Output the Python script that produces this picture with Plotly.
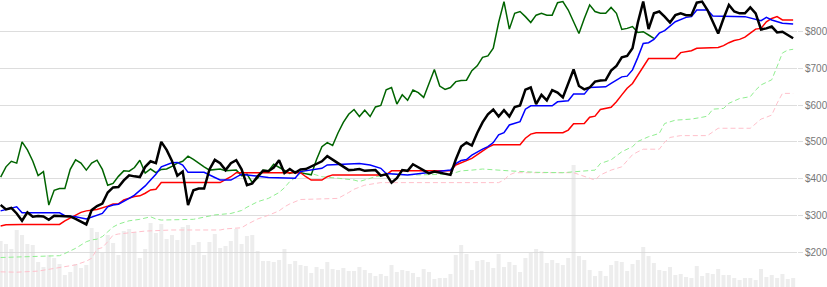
import plotly.graph_objects as go

# Closing prices (index 0..148)
close = [328, 316, 320, 305, 285, 308, 296, 298, 297, 288,
         299, 298, 298, 297, 290, 283, 275, 314, 325, 332,
         362, 376, 377, 395, 409, 406, 404, 432, 447, 442,
         500, 478, 448, 408, 419, 328, 368, 373, 373, 425,
         451, 442, 423, 442, 450, 425, 382, 387, 406, 421,
         420, 430, 450, 415, 426, 416, 425, 426, 433, 442,
         447, 461, 452, 441, 432, 423, 424, 426, 421, 421,
         423, 408, 412, 389, 401, 423, 421, 439, 431, 421,
         414, 419, 416, 412, 410, 452, 487, 498, 490, 524,
         553, 575, 588, 569, 586, 569, 595, 599, 642, 648,
         603, 628, 613, 641, 634, 621, 659, 697, 652, 643,
         648, 664, 667, 668, 694, 707, 730, 734, 755, 825,
         882, 807, 850, 855, 841, 825, 845, 850, 845, 845,
         879, 882, 859, 825, 795, 836, 873, 855, 850, 850,
         866, 850, 806, 809, 814, 798, 800, 791, 782]

# Volume (millions)
volume = [4.6, 4.3, 3.8, 5.7, 5.2, 4.3, 4.2, 2.5, 2.0, 3.2,
          2.9, 2.3, 1.2, 1.5, 2.3, 1.9, 2.2, 5.9, 5.5, 3.4,
          5.2, 4.4, 3.2, 5.6, 5.8, 5.5, 2.9, 3.8, 6.4, 5.4,
          6.3, 4.8, 5.2, 4.7, 6.0, 6.2, 4.2, 4.5, 3.2, 4.5,
          5.3, 3.9, 4.1, 4.6, 5.8, 4.3, 5.1, 5.2, 3.6, 2.6,
          2.6, 2.5, 2.7, 3.8, 2.3, 2.6, 2.2, 2.1, 1.4, 2.0,
          1.8, 2.5, 1.8, 1.7, 1.9, 1.6, 1.6, 2.0, 1.7, 1.4,
          1.1, 1.3, 1.1, 2.2, 1.5, 1.7, 1.6, 1.4, 1.0, 1.8,
          1.5, 0.8, 0.9, 0.9, 1.3, 3.2, 4.2, 3.3, 1.7, 2.6,
          2.7, 2.5, 1.9, 3.3, 2.0, 2.5, 2.2, 1.5, 2.9, 3.4,
          3.8, 3.6, 2.4, 2.7, 2.4, 2.2, 2.9, 12.2, 3.1, 2.7,
          1.7, 1.1, 1.6, 1.1, 2.2, 2.6, 2.5, 1.6, 2.3, 2.7,
          4.0, 3.1, 2.4, 1.7, 1.6, 2.0, 1.2, 1.3, 1.0, 0.9,
          2.1, 1.1, 1.4, 1.3, 1.8, 1.2, 1.2, 0.9, 0.7, 0.9,
          0.9, 0.7, 1.8, 1.0, 1.2, 0.9, 1.3, 0.8, 0.9]

# Tenkan-sen (conversion line) - breakpoints
tenkan_idx = [0, 2, 3, 4, 11, 12, 14, 16, 18, 19, 20, 21, 22, 23, 24, 25, 26, 27, 28, 29,
              30, 31, 32, 33, 34, 35, 38, 40, 41, 43, 44, 45, 46, 48, 50, 55, 56, 60, 61, 67,
              69, 71, 72, 76, 80, 83, 84, 85, 86, 87, 88, 90, 91, 92, 93, 94, 95, 97, 98, 99,
              103, 104, 106, 107, 109, 110, 113, 114, 116, 117, 118, 119, 120, 121, 122, 123, 124, 126, 128, 129,
              130, 132, 133, 139, 141, 142, 143, 144, 146, 148]
tenkan_val = [312, 319, 323, 307, 307, 299, 296, 290, 301, 305, 323, 328, 330, 337, 346, 355, 367, 380, 396, 412,
              432, 437, 443, 444, 437, 417, 417, 403, 396, 396, 405, 412, 410, 407, 403, 401, 419, 428, 437, 441,
              437, 428, 414, 410, 416, 421, 423, 441, 449, 452, 464, 480, 487, 498, 519, 525, 546, 555, 589, 598,
              598, 609, 612, 630, 630, 648, 650, 659, 677, 679, 696, 730, 768, 770, 779, 796, 803, 827, 839, 841,
              859, 859, 843, 841, 834, 830, 839, 832, 823, 821]

# Kijun-sen (base line) - breakpoints
kijun_idx = [0, 1, 4, 11, 12, 14, 15, 16, 18, 20, 21, 22, 23, 25, 26, 27, 28, 29, 30, 41,
             42, 43, 44, 56, 57, 58, 60, 61, 62, 72, 73, 84, 85, 86, 87, 88, 89, 90, 91, 92,
             97, 98, 99, 100, 105, 106, 107, 109, 110, 111, 112, 114, 115, 116, 117, 118, 119, 120, 121, 126,
             127, 129, 130, 134, 135, 136, 137, 138, 139, 140, 141, 142, 143, 144, 145, 146, 148]
kijun_val = [271, 274, 275, 275, 285, 299, 308, 312, 316, 325, 331, 331, 342, 351, 353, 360, 369, 371, 389, 389,
             396, 405, 416, 416, 405, 396, 396, 405, 410, 410, 421, 421, 437, 444, 449, 455, 465, 475, 485, 492,
             492, 510, 521, 525, 525, 532, 549, 550, 567, 570, 588, 594, 609, 628, 646, 659, 682, 705, 727, 727,
             743, 748, 755, 757, 762, 770, 776, 779, 785, 796, 807, 809, 827, 836, 841, 832, 832]

# Senkou span A - breakpoints
spanA_idx = [0, 6, 11, 12, 14, 16, 17, 18, 19, 20, 21, 22, 24, 26, 28, 29, 30, 36, 38, 40,
             43, 45, 46, 48, 50, 51, 52, 53, 54, 55, 56, 58, 60, 63, 66, 67, 68, 70, 73, 78,
             84, 86, 88, 90, 95, 100, 105, 107, 111, 112, 114, 116, 118, 119, 121, 123, 124, 126, 129, 131,
             132, 133, 135, 136, 138, 140, 141, 142, 143, 144, 145, 146, 147, 148]
spanA_val = [185, 187, 190, 196, 210, 228, 233, 235, 242, 255, 268, 276, 285, 289, 296, 290, 287, 289, 296, 301,
             305, 313, 322, 337, 346, 355, 362, 375, 392, 402, 414, 414, 405, 401, 396, 392, 396, 405, 412, 410,
             412, 421, 423, 426, 421, 417, 416, 419, 423, 441, 451, 473, 487, 501, 514, 523, 550, 559, 562, 567,
             570, 589, 591, 605, 618, 623, 641, 655, 662, 669, 705, 742, 750, 752]

# Senkou span B - breakpoints
spanB_idx = [0, 3, 7, 10, 12, 14, 16, 17, 18, 19, 20, 21, 22, 27, 32, 41, 42, 45, 46, 48,
             50, 51, 52, 53, 54, 56, 63, 65, 66, 68, 71, 93, 94, 95, 96, 107, 109, 111, 112, 114,
             116, 117, 118, 119, 120, 123, 124, 125, 127, 132, 133, 134, 140, 141, 142, 143, 144, 145, 146, 148]
spanB_val = [146, 145, 148, 155, 160, 165, 175, 183, 208, 212, 228, 246, 249, 257, 260, 260, 263, 266, 275, 290,
             300, 305, 312, 323, 331, 343, 346, 362, 371, 382, 389, 389, 396, 410, 416, 416, 405, 396, 410, 423,
             432, 450, 465, 473, 480, 480, 499, 512, 517, 517, 528, 537, 537, 550, 562, 567, 573, 605, 632, 632]

# Price axis ticks
price_ticks = [200, 300, 400, 500, 600, 700, 800]
price_tick_labels = ["$200", "$300", "$400", "$500", "$600", "$700", "$800"]

idx = list(range(len(close)))
lag = 26
chikou_x = [i - lag for i in idx[lag:]]
chikou_y = close[lag:]

dash = "5px,3px"
fig = go.Figure()
fig.add_trace(go.Bar(x=idx, y=volume, marker=dict(color="rgba(215,215,215,0.45)", line=dict(width=0)),
                     yaxis="y", hoverinfo="skip"))
fig.add_trace(go.Scatter(x=spanB_idx, y=spanB_val, mode="lines", yaxis="y2",
                         line=dict(color="#ffc0cb", width=1, dash=dash)))
fig.add_trace(go.Scatter(x=spanA_idx, y=spanA_val, mode="lines", yaxis="y2",
                         line=dict(color="#90ee90", width=1, dash=dash)))
fig.add_trace(go.Scatter(x=chikou_x, y=chikou_y, mode="lines", yaxis="y2",
                         line=dict(color="#006400", width=1.5)))
fig.add_trace(go.Scatter(x=kijun_idx, y=kijun_val, mode="lines", yaxis="y2",
                         line=dict(color="#ff0000", width=1.5)))
fig.add_trace(go.Scatter(x=tenkan_idx, y=tenkan_val, mode="lines", yaxis="y2",
                         line=dict(color="#0000ff", width=1.5)))
fig.add_trace(go.Scatter(x=idx, y=close, mode="lines", yaxis="y2",
                         line=dict(color="#000000", width=2.5)))

fig.update_layout(
    width=827, height=287,
    margin=dict(l=0, r=30, t=0, b=0),
    paper_bgcolor="white", plot_bgcolor="white",
    showlegend=False, bargap=0.25,
    xaxis=dict(range=[-0.116, 148.72], visible=False),
    yaxis=dict(range=[0, 28.7], visible=False, fixedrange=True),
    yaxis2=dict(overlaying="y", side="right", range=[104.7, 886.3],
                tickmode="array", tickvals=price_ticks, ticktext=price_tick_labels,
                showgrid=True, gridcolor="#dddddd", gridwidth=1,
                ticks="outside", ticklen=5, tickcolor="#dddddd",
                zeroline=False, showline=False,
                tickfont=dict(family="Liberation Sans, Arial", size=10, color="#777777")),
)

fig.write_html("out.html")
